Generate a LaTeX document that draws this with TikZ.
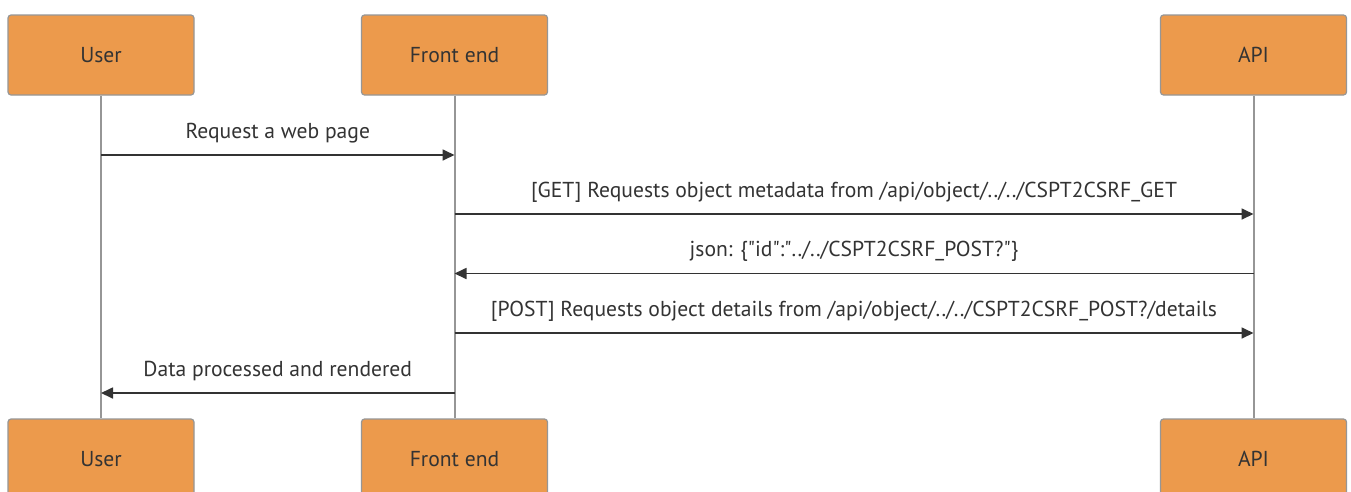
\documentclass[tikz,border=0pt]{standalone}
\usepackage{fontspec}
\setmainfont{PT Sans}
\usetikzlibrary{arrows.meta}
\definecolor{boxfill}{RGB}{236,154,76}
\definecolor{boxline}{RGB}{150,150,150}
\definecolor{lifecol}{RGB}{150,150,150}
\definecolor{txt}{RGB}{51,51,51}
\begin{document}
\begin{tikzpicture}[x=1pt,y=-1pt,
  actor/.style={draw=boxline, line width=1.2pt, fill=boxfill, rounded corners=3pt,
    minimum width=186pt, minimum height=80pt, text=txt, inner sep=0pt,
    font=\fontsize{21.6}{24}\selectfont},
  life/.style={draw=lifecol, line width=2pt},
  msg/.style={draw=txt, line width=1.7pt, -{Triangle[length=12pt,width=11pt]}},
  lbl/.style={text=txt, inner sep=0pt, font=\fontsize{21.6}{24}\selectfont}]
\useasboundingbox (0,0) rectangle (1351,491);
\clip (0,0) rectangle (1351,491);
\fill[white] (0,0) rectangle (1351,491);
% actors
\node[actor] (ut) at (101,55) {User};
\node[actor] (ft) at (454.5,55) {Front end};
\node[actor] (at) at (1253.5,55) {API};
\node[actor] (ub) at (101,459) {User};
\node[actor] (fb) at (454.5,459) {Front end};
\node[actor] (ab) at (1253.5,459) {API};
% lifelines
\draw[life] (ut.south) -- (ub.north);
\draw[life] (ft.south) -- (fb.north);
\draw[life] (at.south) -- (ab.north);
% message anchors
\coordinate (u1) at (101,155);
\coordinate (f1) at (454.5,155);
\coordinate (f2) at (454.5,214);
\coordinate (a2) at (1253.5,214);
\coordinate (a3) at (1253.5,273.5);
\coordinate (f3) at (454.5,273.5);
\coordinate (f4) at (454.5,333);
\coordinate (a4) at (1253.5,333);
\coordinate (f5) at (454.5,393);
\coordinate (u5) at (101,393);
% messages
\draw[msg] (u1) -- (f1) node[lbl, midway, yshift=22pt] (l1) {Request a web page};
\draw[msg] (f2) -- (a2) node[lbl, midway, yshift=22pt] (l2) {[GET] Requests object metadata from /api/object/../../CSPT2CSRF\_GET};
\draw[msg] (a3) -- (f3) node[lbl, midway, yshift=22pt] (l3) {json: \{\textquotedbl id\textquotedbl :\textquotedbl ../../CSPT2CSRF\_POST?\textquotedbl \}};
\draw[msg] (f4) -- (a4) node[lbl, midway, yshift=22pt] (l4) {[POST] Requests object details from /api/object/../../CSPT2CSRF\_POST?/details};
\draw[msg] (f5) -- (u5) node[lbl, midway, yshift=22pt] (l5) {Data processed and rendered};
\end{tikzpicture}
\end{document}
